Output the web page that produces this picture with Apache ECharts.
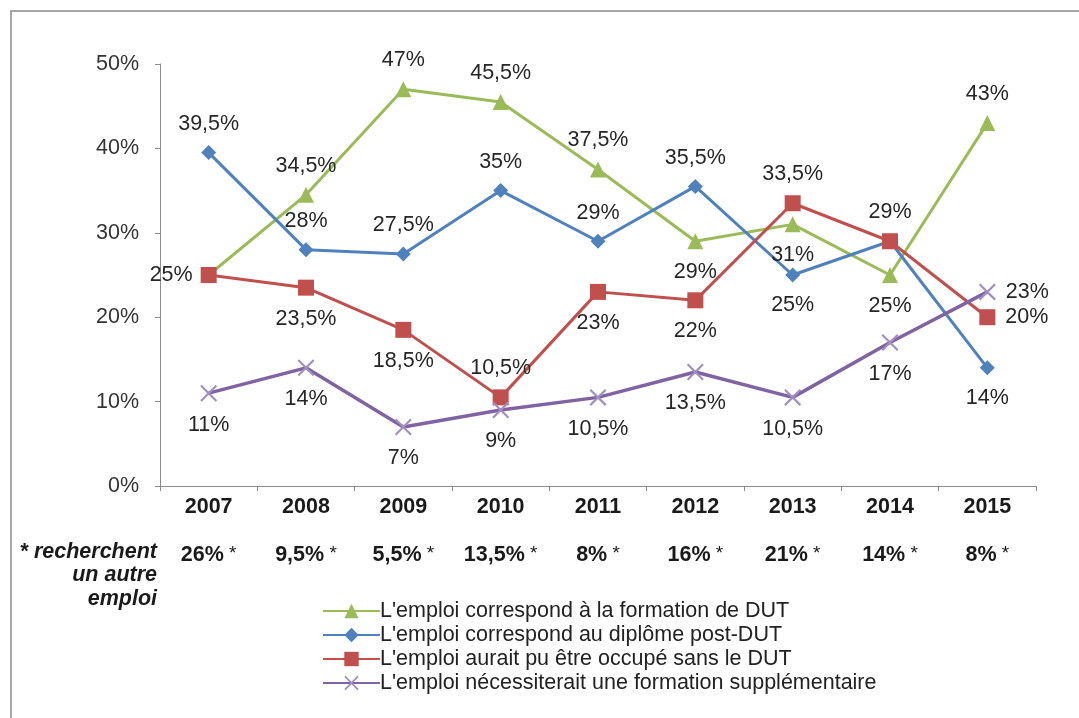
<!DOCTYPE html>
<html>
<head>
<meta charset="utf-8">
<script src="https://cdn.jsdelivr.net/npm/echarts@6/dist/echarts.min.js"></script>
<style>
html,body{margin:0;padding:0;background:#fff;}
#chart{width:1079px;height:718px;}
</style>
</head>
<body>
<div id="chart"></div>
<script>
// ---- data ----
const years = ['2007','2008','2009','2010','2011','2012','2013','2014','2015'];
const otherJob = ['26%','9,5%','5,5%','13,5%','8%','16%','21%','14%','8%'];
const seriesNames = [
  "L'emploi correspond à la formation de DUT",
  "L'emploi correspond au diplôme post-DUT",
  "L'emploi aurait pu être occupé sans le DUT",
  "L'emploi nécessiterait une formation supplémentaire"
];
const formationDUT = [25, 34.5, 47, 45.5, 37.5, 29, 31, 25, 43];
const postDUT      = [39.5, 28, 27.5, 35, 29, 35.5, 25, 29, 14];
const sansDUT      = [25, 23.5, 18.5, 10.5, 23, 22, 33.5, 29, 20];
const supplement   = [11, 14, 7, 9, 10.5, 13.5, 10.5, 17, 23];
const yTicks = [0, 10, 20, 30, 40, 50];

// ---- label placement (style, not data) ----
const posGreen  = ['none','top','top','top','top','bottom','bottom','bottom','top'];
const posBlue   = ['top','top','top','top','top','top','bottom','none','bottom'];
const posRed    = ['left','bottom','bottom','top','bottom','bottom','top','top','right'];
const posPurple = ['bottom','bottom','bottom','bottom','bottom','bottom','bottom','bottom','right'];

const FONT = '"Liberation Sans", Arial, sans-serif';
const fmt = v => String(v).replace('.', ',') + '%';

function buildData(values, positions) {
  return values.map((v, i) => {
    const p = positions[i];
    if (p === 'none') return { value: v, label: { show: false } };
    const d = p === 'left' ? 8 : p === 'right' ? 10 : p === 'top' ? 10 : 12;
    return { value: v, label: { show: true, position: p, distance: d } };
  });
}

const xPath = 'path://M0,0.9L0.9,0L10,9.1L9.1,10Z M9.1,0L10,0.9L0.9,10L0,9.1Z';

const labelStyle = {
  show: true,
  formatter: p => fmt(p.value),
  fontFamily: FONT,
  fontSize: 21.5,
  color: '#262626'
};

const chart = echarts.init(document.getElementById('chart'), null, { renderer: 'canvas' });
chart.setOption({
  backgroundColor: '#fff',
  animation: false,
  grid: { left: 160, right: 43, top: 64, bottom: 232, containLabel: false },
  xAxis: [
    {
      type: 'category',
      data: years,
      boundaryGap: true,
      axisLine: { lineStyle: { color: '#8c8c8c', width: 1 } },
      axisTick: { show: true, length: 5, lineStyle: { color: '#8c8c8c' } },
      axisLabel: { interval: 0, fontFamily: FONT, fontSize: 21.5, fontWeight: 'bold', color: '#1a1a1a', margin: 10 }
    },
    {
      type: 'category',
      data: otherJob,
      position: 'bottom',
      offset: 48,
      boundaryGap: true,
      axisLine: { show: false },
      axisTick: { show: false },
      axisLabel: {
        interval: 0,
        margin: 10,
        formatter: v => '{v|' + v + '}{s| *}',
        rich: {
          v: { fontFamily: FONT, fontSize: 21.5, fontWeight: 'bold', color: '#1a1a1a' },
          s: { fontFamily: FONT, fontSize: 19, color: '#1a1a1a', verticalAlign: 'top' }
        }
      }
    }
  ],
  yAxis: {
    type: 'value',
    min: yTicks[0],
    max: yTicks[yTicks.length - 1],
    interval: 10,
    axisLine: { show: true, lineStyle: { color: '#8c8c8c', width: 1 } },
    axisTick: { show: true, length: 5, lineStyle: { color: '#8c8c8c' } },
    splitLine: { show: false },
    axisLabel: { formatter: '{value}%', fontFamily: FONT, fontSize: 21.5, color: '#333', margin: 21 }
  },
  legend: {
    orient: 'vertical',
    left: 317,
    top: 595,
    itemWidth: 57,
    itemHeight: 18,
    itemGap: 2,
    textStyle: { fontFamily: FONT, fontSize: 21.5, color: '#222', padding: [0, 0, 0, -5] },
    data: seriesNames
  },
  series: [
    {
      name: seriesNames[0], type: 'line', xAxisIndex: 0,
      data: buildData(formationDUT, posGreen),
      symbol: 'triangle', symbolSize: 16,
      lineStyle: { color: '#9BBB59', width: 3 },
      itemStyle: { color: '#9BBB59' },
      label: labelStyle
    },
    {
      name: seriesNames[1], type: 'line', xAxisIndex: 0,
      data: buildData(postDUT, posBlue),
      symbol: 'diamond', symbolSize: 15,
      lineStyle: { color: '#4F81BD', width: 3 },
      itemStyle: { color: '#4F81BD' },
      label: labelStyle
    },
    {
      name: seriesNames[2], type: 'line', xAxisIndex: 0,
      data: buildData(sansDUT, posRed),
      symbol: 'rect', symbolSize: 16,
      lineStyle: { color: '#C0504D', width: 3 },
      itemStyle: { color: '#C0504D' },
      label: labelStyle
    },
    {
      name: seriesNames[3], type: 'line', xAxisIndex: 0,
      data: buildData(supplement, posPurple),
      symbol: xPath, symbolSize: 17,
      lineStyle: { color: '#8064A2', width: 3.5 },
      itemStyle: { color: '#a08fc0' },
      label: labelStyle
    }
  ],
  graphic: [
    {
      type: 'rect', silent: true, z: -1,
      shape: { x: 11, y: 11, width: 1100, height: 740 },
      style: { fill: 'none', stroke: '#a6a6a6', lineWidth: 2 }
    },
    {
      type: 'text',
      x: 157, y: 540,
      style: {
        text: '* recherchent\nun autre\nemploi',
        fontFamily: FONT, fontSize: 21.5, fontWeight: 'bold', fontStyle: 'italic',
        fill: '#1a1a1a', align: 'right', lineHeight: 23.5
      }
    }
  ]
});
</script>
</body>
</html>
